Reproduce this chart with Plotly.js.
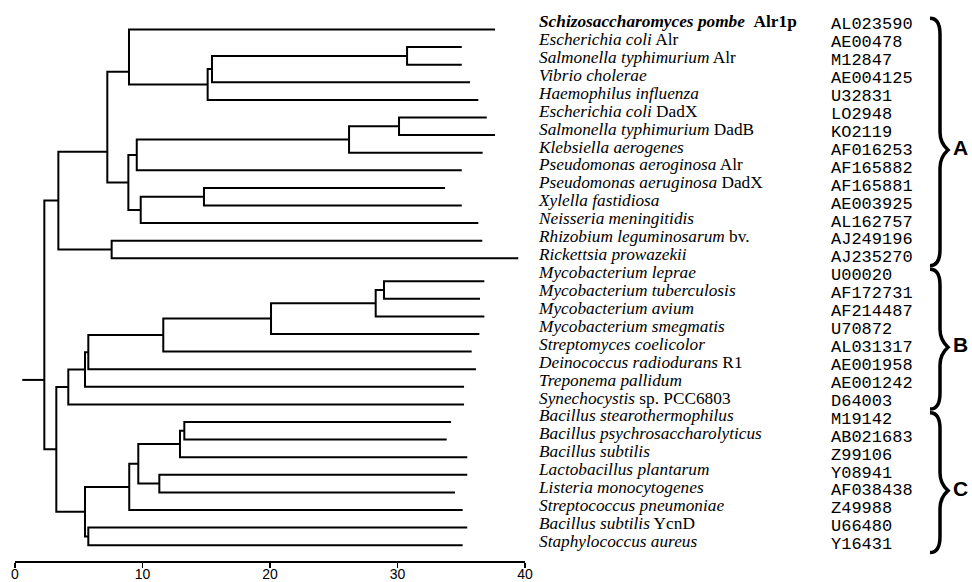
<!DOCTYPE html>
<html><head><meta charset="utf-8">
<script src="https://cdn.plot.ly/plotly-3.0.1.min.js"></script>
<style>html,body{margin:0;padding:0;background:#fff}#chart{width:972px;height:582px}</style>
</head><body><div id="chart"></div>
<script>
// ---------------- data ----------------
const italicNames = [
  'Schizosaccharomyces pombe','Escherichia coli','Salmonella typhimurium','Vibrio cholerae',
  'Haemophilus influenza','Escherichia coli','Salmonella typhimurium','Klebsiella aerogenes',
  'Pseudomonas aeroginosa','Pseudomonas aeruginosa','Xylella fastidiosa','Neisseria meningitidis',
  'Rhizobium leguminosarum','Rickettsia prowazekii',
  'Mycobacterium leprae','Mycobacterium tuberculosis','Mycobacterium avium','Mycobacterium smegmatis',
  'Streptomyces coelicolor','Deinococcus radiodurans','Treponema pallidum','Synechocystis',
  'Bacillus stearothermophilus','Bacillus psychrosaccharolyticus','Bacillus subtilis',
  'Lactobacillus plantarum','Listeria monocytogenes','Streptococcus pneumoniae',
  'Bacillus subtilis','Staphylococcus aureus'
];
const suffixes = [
  'Alr1p','Alr','Alr','','','DadX','DadB','','Alr','DadX','','','bv.','',
  '','','','','','R1','','sp. PCC6803',
  '','','','','','','YcnD',''
];
const accessions = [
  'AL023590','AE00478','M12847','AE004125','U32831','LO2948','KO2119','AF016253',
  'AF165882','AF165881','AE003925','AL162757','AJ249196','AJ235270',
  'U00020','AF172731','AF214487','U70872','AL031317','AE001958','AE001242','D64003',
  'M19142','AB021683','Z99106','Y08941','AF038438','Z49988','U66480','Y16431'
];
// x value where each leaf branch ends
const leafEnds = [
  37.65,35.04,35.04,35.69,36.34,37.0,37.65,36.68,35.04,33.73,35.04,36.34,36.65,39.47,
  36.81,36.47,36.81,36.42,35.82,36.16,35.22,35.22,
  34.2,33.86,35.47,35.47,34.51,35.11,35.47,35.11
];
// internal nodes: {x: branching distance, kids: [...], attach: drawn row (optional)}
const tree = {x: 2.30, kids: [
  {x: 3.40, kids: [
    {x: 7.24, attach: 6.94, kids: [
      {x: 8.94, attach: 2.40, kids: [0,
        {x: 15.11, kids: [{x: 15.45, kids: [{x: 30.75, kids: [1, 2]}, 3]}, 4]}]},
      {x: 8.89, kids: [
        {x: 9.55, kids: [{x: 26.2, kids: [{x: 30.12, kids: [5, 6]}, 7]}, 8]},
        {x: 9.86, kids: [{x: 14.82, kids: [9, 10]}, 11]}]}
    ]},
    {x: 7.58, kids: [12, 13]}
  ]},
  {x: 3.24, kids: [
    {x: 4.18, kids: [
      {x: 5.49, kids: [
        {x: 5.75, kids: [
          {x: 11.63, kids: [
            {x: 20.08, kids: [{x: 28.29, kids: [{x: 28.94, kids: [14, 15]}, 16]}, 17]},
            18]},
          19]},
        20]},
      21]},
    {x: 5.49, kids: [
      {x: 8.96, kids: [
        {x: 9.67, kids: [
          {x: 12.94, kids: [{x: 13.28, kids: [22, 23]}, 24]},
          {x: 11.32, kids: [25, 26]}]},
        27]},
      {x: 5.75, kids: [28, 29]}]}
  ]}
]};
const rootStubStart = 0.57;
const rootAttach = 19.91;
const cladeGap = 0.3;          // extra space in the tree between clade A and the rest
const groupNames = ['A','B','C'];
const groupFirst = [0, 14, 22];
const groupLast  = [13, 21, 29];
const xTicks = [0, 10, 20, 30, 40];

// ---------------- build tree lines ----------------
const lx = [], ly = [];
function leafRow(i){ return i + (i >= 14 ? cladeGap : 0); }
function draw(node){
  if (typeof node === 'number') return {y: leafRow(node), x: leafEnds[node]};
  const ks = node.kids.map(draw);
  lx.push(ks[0].x, node.x, node.x, ks[1].x, null);
  ly.push(ks[0].y, ks[0].y, ks[1].y, ks[1].y, null);
  const y = (node.attach !== undefined) ? node.attach : (ks[0].y + ks[1].y) / 2;
  return {y: y, x: node.x};
}
draw(tree);
lx.push(rootStubStart, tree.x, null);
ly.push(rootAttach, rootAttach, null);

const rows = italicNames.map((_, i) => i);
const nameText = italicNames.map((n, i) => {
  if (i === 0) return '<b><i>' + n + '</i>\u00a0\u00a0' + suffixes[i] + '</b>';
  return '<i>' + n + '</i>' + (suffixes[i] ? ' ' + suffixes[i] : '');
});

const NAME_X = 539, ACC_X = 831, LETTER_X = 953, ACC_DY = 0.13;
const traces = [
  {x: lx, y: ly, type: 'scatter', mode: 'lines', xaxis: 'x', yaxis: 'y',
   line: {color: '#000', width: 2}, hoverinfo: 'skip', cliponaxis: false, showlegend: false},
  {x: rows.map(() => NAME_X), y: rows, text: nameText, type: 'scatter', mode: 'text',
   textposition: 'middle right', xaxis: 'x2', yaxis: 'y2', cliponaxis: false, hoverinfo: 'skip',
   textfont: {family: '"Liberation Serif", "Times New Roman", serif', size: 17.3, color: '#000'}, showlegend: false},
  {x: rows.map(() => ACC_X), y: rows.map(r => r + ACC_DY), text: accessions, type: 'scatter', mode: 'text',
   textposition: 'middle right', xaxis: 'x2', yaxis: 'y2', cliponaxis: false, hoverinfo: 'skip',
   textfont: {family: '"Liberation Mono", "Courier New", monospace', size: 17, color: '#000'}, showlegend: false},
  {x: groupNames.map(() => LETTER_X),
   y: groupNames.map((g, k) => (groupFirst[k] - 0.25 + groupLast[k] + 0.55) / 2 + 0.45),
   text: groupNames.map(g => '<b>' + g + '</b>'), type: 'scatter', mode: 'text',
   textposition: 'middle right', xaxis: 'x2', yaxis: 'y2', cliponaxis: false, hoverinfo: 'skip',
   textfont: {family: '"Liberation Sans", Arial, sans-serif', size: 21, color: '#000'}, showlegend: false}
];

// braces
const shapes = groupNames.map((g, k) => {
  const top = groupFirst[k] - 0.25, bot = groupLast[k] + 0.55;
  const tip = (top + bot) / 2 + 0.45;
  const x0 = 930, xs = 940, xt = 948;
  const p = `M ${x0},${top} Q ${xs},${top} ${xs},${top+0.9} L ${xs},${tip-1.0} ` +
            `Q ${xs},${tip-0.4} ${xt},${tip} Q ${xs},${tip+0.4} ${xs},${tip+1.0} ` +
            `L ${xs},${bot-0.9} Q ${xs},${bot} ${x0},${bot}`;
  return {type: 'path', path: p, xref: 'x2', yref: 'y2', line: {color: '#000', width: 3.5}};
});

const H = 582, W = 972;
const layout = {
  width: W, height: H, margin: {l: 0, r: 0, t: 0, b: 0},
  paper_bgcolor: '#fff', plot_bgcolor: 'rgba(0,0,0,0)', showlegend: false,
  xaxis: {domain: [15 / W, 525 / W], range: [0, 40], anchor: 'y', showline: true, linecolor: '#000',
          linewidth: 1.5, ticks: 'outside', ticklen: 5, tickwidth: 1.5, tickcolor: '#000',
          ticklabelstandoff: -5,
          tickvals: xTicks, showgrid: false, zeroline: false, automargin: false, fixedrange: true,
          tickfont: {family: '"Liberation Sans", Arial, sans-serif', size: 14, color: '#000'}},
  yaxis: {domain: [1 - 561 / H, 1], range: [(561 - 29.5) / 17.6, -29.5 / 17.6], anchor: 'x',
          visible: false, fixedrange: true},
  xaxis2: {domain: [0, 1], range: [0, W], anchor: 'y2', visible: false, fixedrange: true},
  yaxis2: {domain: [0, 1], range: [(H - 22.7) / 17.93, -22.7 / 17.93], anchor: 'x2',
           visible: false, fixedrange: true},
  shapes: shapes
};
Plotly.newPlot('chart', traces, layout, {staticPlot: true, displayModeBar: false});
</script></body></html>
